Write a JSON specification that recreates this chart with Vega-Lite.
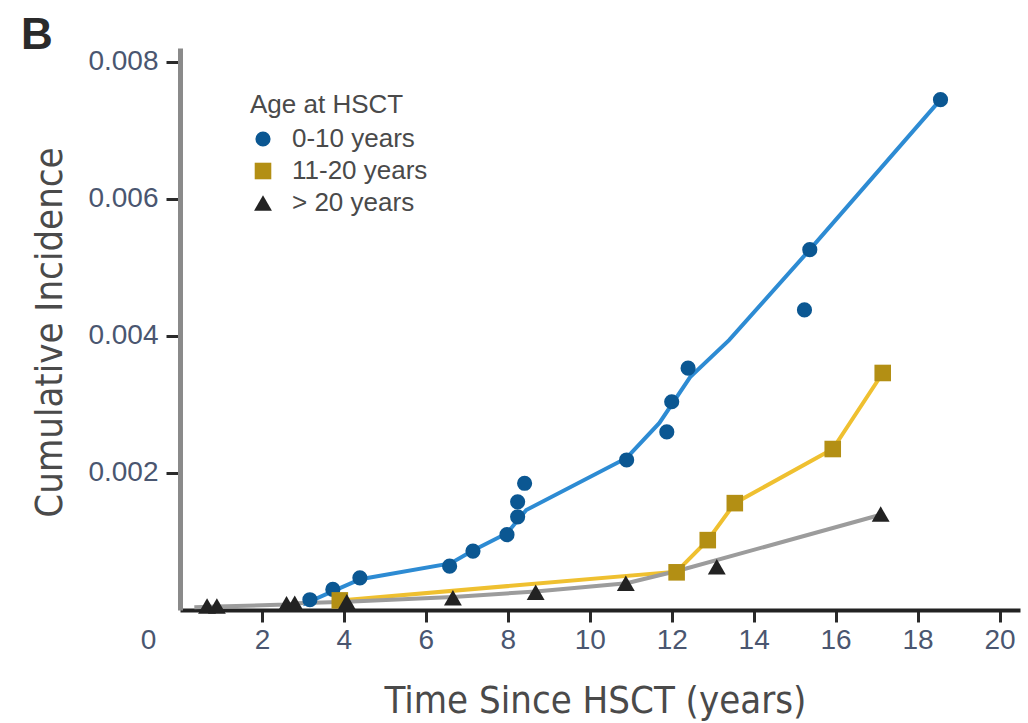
{
  "$schema": "https://vega.github.io/schema/vega-lite/v6.json",
  "width": 840,
  "height": 562,
  "autosize": {"type": "none"},
  "padding": {"left": 180, "top": 48, "right": 8, "bottom": 113},
  "background": "white",
  "title": {
    "text": "B",
    "anchor": "start",
    "frame": "group",
    "font": "Liberation Sans",
    "fontSize": 44,
    "fontWeight": "bold",
    "color": "#2a2a2a",
    "dx": -159,
    "dy": 12,
    "offset": 2
  },
  "datasets": {
    "lines": [
      {"group": "0-10 years", "t": 3.0, "ci": 0.00008},
      {"group": "0-10 years", "t": 3.75, "ci": 0.00028},
      {"group": "0-10 years", "t": 4.4, "ci": 0.00045},
      {"group": "0-10 years", "t": 6.6, "ci": 0.00068},
      {"group": "0-10 years", "t": 7.15, "ci": 0.00087},
      {"group": "0-10 years", "t": 7.98, "ci": 0.00112},
      {"group": "0-10 years", "t": 8.45, "ci": 0.00146},
      {"group": "0-10 years", "t": 10.9, "ci": 0.00222},
      {"group": "0-10 years", "t": 11.7, "ci": 0.00273},
      {"group": "0-10 years", "t": 12.45, "ci": 0.0034},
      {"group": "0-10 years", "t": 13.4, "ci": 0.00394},
      {"group": "0-10 years", "t": 15.37, "ci": 0.00526},
      {"group": "0-10 years", "t": 18.56, "ci": 0.00745},
      {"group": "11-20 years", "t": 3.9, "ci": 0.00014},
      {"group": "11-20 years", "t": 12.12, "ci": 0.00056},
      {"group": "11-20 years", "t": 12.88, "ci": 0.00102},
      {"group": "11-20 years", "t": 13.54, "ci": 0.00156},
      {"group": "11-20 years", "t": 15.93, "ci": 0.00235},
      {"group": "11-20 years", "t": 17.15, "ci": 0.00346},
      {"group": "> 20 years", "t": 0.35, "ci": 0.00004},
      {"group": "> 20 years", "t": 0.9, "ci": 0.00005},
      {"group": "> 20 years", "t": 2.6, "ci": 0.00008},
      {"group": "> 20 years", "t": 2.85, "ci": 0.0001},
      {"group": "> 20 years", "t": 4.07, "ci": 0.00012},
      {"group": "> 20 years", "t": 6.66, "ci": 0.00019},
      {"group": "> 20 years", "t": 8.68, "ci": 0.00027},
      {"group": "> 20 years", "t": 10.9, "ci": 0.00039},
      {"group": "> 20 years", "t": 12.2, "ci": 0.00058},
      {"group": "> 20 years", "t": 17.1, "ci": 0.00139}
    ],
    "points": [
      {"group": "0-10 years", "t": 3.17, "ci": 0.00015},
      {"group": "0-10 years", "t": 3.73, "ci": 0.0003},
      {"group": "0-10 years", "t": 4.39, "ci": 0.00047},
      {"group": "0-10 years", "t": 6.58, "ci": 0.00064},
      {"group": "0-10 years", "t": 7.15, "ci": 0.00086},
      {"group": "0-10 years", "t": 7.98, "ci": 0.0011},
      {"group": "0-10 years", "t": 8.24, "ci": 0.00136},
      {"group": "0-10 years", "t": 8.24, "ci": 0.00158},
      {"group": "0-10 years", "t": 8.41, "ci": 0.00185},
      {"group": "0-10 years", "t": 10.9, "ci": 0.00219},
      {"group": "0-10 years", "t": 11.88, "ci": 0.0026},
      {"group": "0-10 years", "t": 12.0, "ci": 0.00304},
      {"group": "0-10 years", "t": 12.4, "ci": 0.00353},
      {"group": "0-10 years", "t": 15.24, "ci": 0.00438},
      {"group": "0-10 years", "t": 15.37, "ci": 0.00526},
      {"group": "0-10 years", "t": 18.56, "ci": 0.00745},
      {"group": "11-20 years", "t": 3.9, "ci": 0.00014},
      {"group": "11-20 years", "t": 12.12, "ci": 0.00055},
      {"group": "11-20 years", "t": 12.88, "ci": 0.00102},
      {"group": "11-20 years", "t": 13.54, "ci": 0.00156},
      {"group": "11-20 years", "t": 15.93, "ci": 0.00235},
      {"group": "11-20 years", "t": 17.15, "ci": 0.00346},
      {"group": "> 20 years", "t": 0.66, "ci": 0.00006},
      {"group": "> 20 years", "t": 0.9, "ci": 0.00006},
      {"group": "> 20 years", "t": 2.6, "ci": 0.00009},
      {"group": "> 20 years", "t": 2.8, "ci": 0.0001},
      {"group": "> 20 years", "t": 4.07, "ci": 0.00012},
      {"group": "> 20 years", "t": 6.66, "ci": 0.00018},
      {"group": "> 20 years", "t": 8.68, "ci": 0.00026},
      {"group": "> 20 years", "t": 10.88, "ci": 0.00039},
      {"group": "> 20 years", "t": 13.1, "ci": 0.00063},
      {"group": "> 20 years", "t": 17.1, "ci": 0.0014}
    ]
  },
  "config": {
    "view": {"stroke": null},
    "axis": {
      "grid": false,
      "labelFont": "Liberation Sans",
      "labelFontSize": 28,
      "labelColor": "#4a5670",
      "titleFont": "DejaVu Sans Condensed, Liberation Sans",
      "titleFontSize": 38,
      "titleFontWeight": "normal",
      "titleColor": "#4a4a4a",
      "tickColor": "#2a2a2a",
      "tickWidth": 3
    }
  },
  "encoding": {
    "x": {
      "field": "t",
      "type": "quantitative",
      "scale": {"domain": [0, 20.5], "nice": false, "zero": false},
      "axis": {
        "title": "Time Since HSCT (years)",
        "values": [0, 2, 4, 6, 8, 10, 12, 14, 16, 18, 20],
        "format": "d",
        "domainColor": "#222222",
        "domainWidth": 4,
        "tickSize": 12,
        "labelPadding": 4,
        "labelFlush": false,
        "labelOverlap": false,
        "labelOffset": {"condition": {"test": "datum.value == 0", "value": -32}, "value": 0},
        "tickOpacity": {"condition": {"test": "datum.value == 0", "value": 0}, "value": 1},
        "titleX": 415,
        "titleY": 102,
        "titleBaseline": "alphabetic",
        "titleAnchor": "middle"
      }
    },
    "y": {
      "field": "ci",
      "type": "quantitative",
      "scale": {"domain": [0, 0.008204], "nice": false},
      "axis": {
        "title": "Cumulative Incidence",
        "values": [0.002, 0.004, 0.006, 0.008],
        "format": ".3f",
        "domainColor": "#8a8a8a",
        "domainWidth": 5,
        "tickSize": 14,
        "labelPadding": 8,
        "labelFlush": false,
        "titleX": -119,
        "titleY": 284,
        "titleAngle": -90,
        "titleBaseline": "alphabetic",
        "titleAlign": "center"
      }
    }
  },
  "layer": [
    {
      "data": {"name": "lines"},
      "mark": {"type": "line", "strokeWidth": 4, "clip": false},
      "encoding": {
        "stroke": {
          "field": "group",
          "type": "nominal",
          "scale": {"domain": ["> 20 years", "11-20 years", "0-10 years"], "range": ["#9c9c9c", "#efc030", "#2d8bd3"]},
          "legend": null
        },
        "order": {"field": "t", "type": "quantitative"}
      }
    },
    {
      "data": {"name": "points"},
      "mark": {"type": "point", "filled": true, "opacity": 1, "strokeWidth": 0},
      "encoding": {
        "color": {
          "field": "group",
          "type": "nominal",
          "scale": {"domain": ["0-10 years", "11-20 years", "> 20 years"], "range": ["#0b5792", "#b38f14", "#222222"]},
          "legend": {
            "title": "Age at HSCT",
            "orient": "none",
            "legendX": 70,
            "legendY": 44,
            "padding": 0,
            "titleFont": "Liberation Sans",
            "titleFontSize": 26,
            "titleFontWeight": "normal",
            "titleColor": "#4a4a4a",
            "titlePadding": 8,
            "labelFont": "Liberation Sans",
            "labelFontSize": 26,
            "labelColor": "#4a4a4a",
            "labelOffset": 16,
            "rowPadding": 6,
            "symbolStrokeWidth": 0,
            "symbolOpacity": 1
          }
        },
        "shape": {
          "field": "group",
          "type": "nominal",
          "scale": {"domain": ["0-10 years", "11-20 years", "> 20 years"], "range": ["circle", "square", "triangle-up"]}
        },
        "size": {
          "field": "group",
          "type": "nominal",
          "scale": {"domain": ["0-10 years", "11-20 years", "> 20 years"], "range": [230, 320, 130]}
        }
      }
    }
  ]
}
